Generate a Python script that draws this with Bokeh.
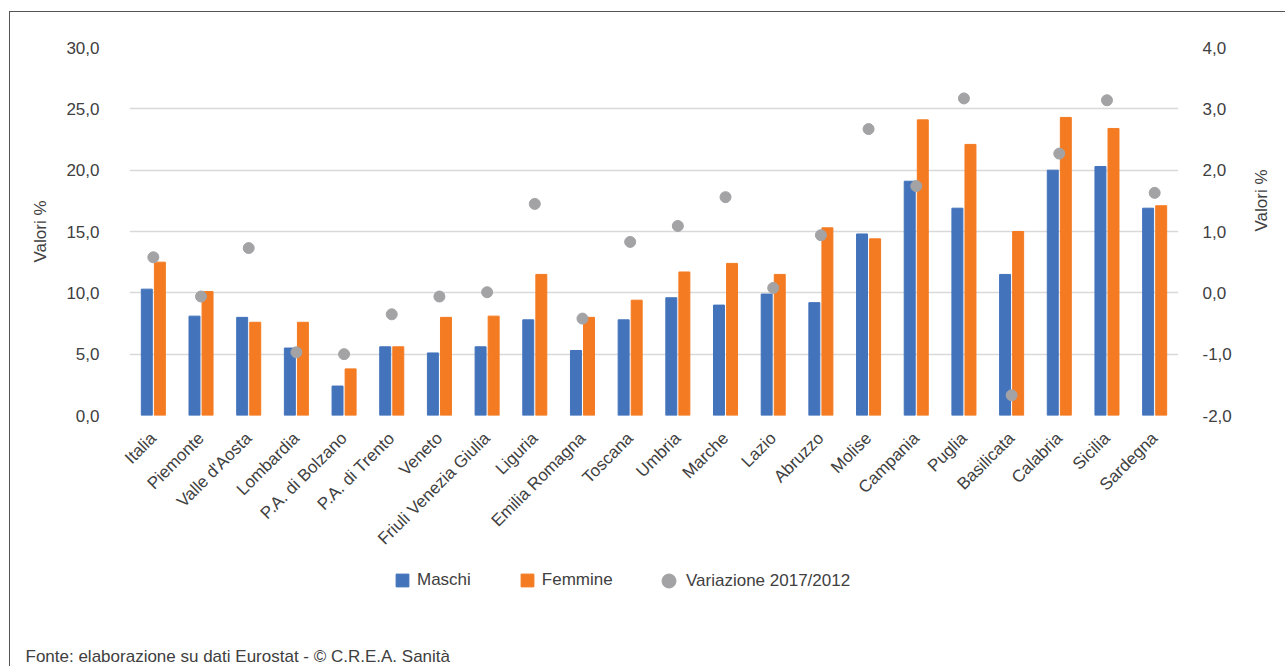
import math
from bokeh.plotting import figure
from bokeh.layouts import column
from bokeh.models import (Range1d, LinearAxis, FixedTicker, CustomJSTickFormatter,
                          Legend, LegendItem, Label, ColumnDataSource)
from bokeh.transform import dodge
from bokeh.embed import file_html
from bokeh.resources import INLINE

regions = ["Italia", "Piemonte", "Valle d'Aosta", "Lombardia", "P.A. di Bolzano",
           "P.A. di Trento", "Veneto", "Friuli Venezia Giulia", "Liguria",
           "Emilia Romagna", "Toscana", "Umbria", "Marche", "Lazio", "Abruzzo",
           "Molise", "Campania", "Puglia", "Basilicata", "Calabria", "Sicilia",
           "Sardegna"]
maschi = [10.3, 8.1, 8.0, 5.5, 2.4, 5.6, 5.1, 5.6, 7.8, 5.3, 7.8, 9.6, 9.0, 9.9,
          9.2, 14.8, 19.1, 16.9, 11.5, 20.0, 20.3, 16.9]
femmine = [12.5, 10.1, 7.6, 7.6, 3.8, 5.6, 8.0, 8.1, 11.5, 8.0, 9.4, 11.7, 12.4,
           11.5, 15.3, 14.4, 24.1, 22.1, 15.0, 24.3, 23.4, 17.1]
variazione = [0.58, -0.06, 0.73, -0.97, -1.0, -0.35, -0.06, 0.01, 1.45, -0.42,
              0.83, 1.09, 1.56, 0.08, 0.94, 2.67, 1.74, 3.17, -1.67, 2.27, 3.14, 1.63]
left_ticks = [0, 5, 10, 15, 20, 25, 30]
right_ticks = [-2, -1, 0, 1, 2, 3, 4]
series_names = ["Maschi", "Femmine", "Variazione 2017/2012"]
footer = "Fonte: elaborazione su dati Eurostat - \u00a9 C.R.E.A. Sanit\u00e0"

FONT = "Liberation Sans"
FS = "17px"
TXT = "#404040"
BLUE = "#4373BB"
ORANGE = "#F47B22"
GRAY = "#A3A3A6"

src = ColumnDataSource(dict(regione=regions, maschi=maschi, femmine=femmine,
                            variazione=variazione))

# ---- main chart ----
p = figure(width=1275, height=553, x_range=regions, y_range=Range1d(0, 30),
           output_backend="svg", toolbar_location=None,
           min_border_left=119, min_border_right=107, min_border_top=35,
           min_border_bottom=150)
p.frame_align = False
p.outline_line_color = None
p.extra_y_ranges = {"right": Range1d(-2, 4)}

p.vbar(x=dodge("regione", -0.137, range=p.x_range), top="maschi", width=0.23,
       source=src, color=BLUE)
p.vbar(x=dodge("regione", 0.137, range=p.x_range), top="femmine", width=0.23,
       source=src, color=ORANGE)
p.scatter(x="regione", y="variazione", source=src, y_range_name="right",
          size=11, color=GRAY)

fmt_code = "return tick.toFixed(1).replace('.', ',');"

ya = p.yaxis[0]
ya.ticker = FixedTicker(ticks=left_ticks)
ya.formatter = CustomJSTickFormatter(code=fmt_code)
ya.axis_label = "Valori %"
ya.major_label_standoff = 24
ya.axis_label_standoff = 13

ra = LinearAxis(y_range_name="right", ticker=FixedTicker(ticks=right_ticks),
                formatter=CustomJSTickFormatter(code=fmt_code),
                axis_label="Valori %")
ra.major_label_standoff = 18
ra.axis_label_standoff = 27
ra.axis_label_orientation = math.pi / 2
p.add_layout(ra, "right")

xa = p.xaxis[0]
xa.major_label_orientation = math.pi / 4
xa.major_label_standoff = 14

for ax in (ya, ra, xa):
    ax.axis_line_color = None
    ax.major_tick_line_color = None
    ax.minor_tick_line_color = None
    ax.major_label_text_font = FONT
    ax.major_label_text_font_size = FS
    ax.major_label_text_color = TXT
    ax.axis_label_text_font = FONT
    ax.axis_label_text_font_size = FS
    ax.axis_label_text_font_style = "normal"
    ax.axis_label_text_color = TXT

p.xgrid.grid_line_color = None
p.ygrid.ticker = FixedTicker(ticks=left_ticks)
p.ygrid.grid_line_color = "#D9D9D9"
p.ygrid.grid_line_width = 1.5

# ---- legend + source strip ----
q = figure(width=1275, height=101, x_range=Range1d(0, 1), y_range=Range1d(0, 1),
           x_axis_type=None, y_axis_type=None, output_backend="svg",
           toolbar_location=None, min_border=0)
q.frame_align = False
q.outline_line_color = None
q.grid.visible = False
# legend proxies, placed outside the visible range
lm = q.vbar(x=[-5], top=[-5], width=0.1, color=BLUE)
lf = q.vbar(x=[-5], top=[-5], width=0.1, color=ORANGE)
lv = q.scatter(x=[-5], y=[-5], size=14, color=GRAY)

common = dict(orientation="horizontal", padding=0, margin=0,
              border_line_color=None, background_fill_alpha=0,
              label_text_font=FONT, label_text_font_size=FS,
              label_text_color=TXT)
legend_bars = Legend(items=[LegendItem(label=series_names[0], renderers=[lm]),
                            LegendItem(label=series_names[1], renderers=[lf])],
                     location=(384, 76), glyph_width=16, glyph_height=16,
                     label_standoff=7, spacing=48, **common)
legend_dot = Legend(items=[LegendItem(label=series_names[2], renderers=[lv])],
                    location=(641, 68), glyph_width=35, glyph_height=35,
                    label_standoff=0, **common)
q.add_layout(legend_bars, "center")
q.add_layout(legend_dot, "center")

q.add_layout(Label(x=15, y=10, x_units="screen", y_units="screen", text=footer,
                   text_font=FONT, text_font_size=FS, text_color=TXT,
                   text_baseline="alphabetic"))

page = column(p, q, spacing=0)
page.styles = {"margin-left": "9px", "margin-top": "11px",
               "border-left": "1px solid #555555", "border-top": "1px solid #555555"}

open("out.html", "w").write(file_html(page, INLINE))
